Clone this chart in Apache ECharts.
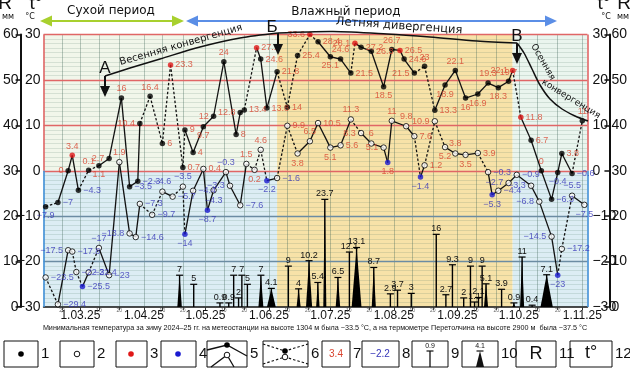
<!DOCTYPE html>
<html><head><meta charset="utf-8">
<script src="https://cdn.jsdelivr.net/npm/echarts@6/dist/echarts.min.js"></script>
<style>html,body{margin:0;padding:0;background:#fff}#c{width:630px;height:370px}</style>
</head><body><div id="c"></div>
<script>
// x = day of year 2025 (1 = 1 January)
const maxDays = [43,49,54,56,59,64,69,74,80,84,88,89,94,100,104,110,111,115,120,125,130,136,138,140,146,148,151,156,161,166,172,176,182,187,192,194,197,202,208,212,216,218,223,228,233,238,243,248,254,259,264,269,271,275,280,285,290,293,295,300,305];
const maxVals = [-7.9,-7,0,3.4,-4.3,0.1,1.1,2.7,16,-3.5,-2.3,10.4,16.4,6,23.3,0.7,9,4,9.7,12,24,8,12.8,13.4,27.1,24.6,13.8,21.8,14,25.4,33.6,28.4,25.1,24.6,21.5,28.1,27.2,26.3,18.5,26.7,26.5,24.6,21.5,23,13.3,18.9,22.1,16.0,16.9,19.3,18.3,19.7,22.1,11.8,6.7,0,-6.3,-0.4,3.8,-0.6,11];
const maxExtreme = [0,0,0,1,0,0,0,0,0,0,0,0,0,0,1,0,0,0,0,0,0,0,0,0,1,0,0,0,0,0,1,0,0,0,0,1,0,0,0,0,1,0,0,0,0,0,0,0,0,0,0,0,1,1,0,0,0,0,0,0,0];
const maxDashed = [1,0,0,0,1,1,0,0,0,0,0,1,1,1,1,1,0,0,0,0,0,0,1,1,0,0,0,1,1,1,1,0,0,0,1,0,0,0,0,0,0,0,1,1,0,0,0,0,0,0,0,0,1,0,0,0,0,0,0,1];

const minDays = [43,49,54,56,58,61,64,69,74,79,84,87,89,95,100,105,110,111,115,120,122,125,131,133,138,141,145,148,151,156,161,166,172,176,182,187,192,197,202,208,210,212,219,223,226,228,233,238,243,248,254,259,261,264,269,273,280,284,290,293,295,300,306];
const minVals = [-23.5,-29.4,-17.5,-17.8,-22.3,-25.5,-22.4,-17,-23,1.9,-13.8,-14.6,-7.3,-9.7,-4.6,-5.7,-3.5,-14,-4.4,0.4,-8.7,-4.3,-0.3,-3.3,-7.6,1.5,0.2,4.6,-2.2,-1.6,9.9,3.8,6.5,10.5,5.1,5.6,11.3,8.3,6,5.1,1.8,11,9.8,7.6,-1.4,1.2,10.9,5.2,3.8,3.5,3.9,-0.3,-5.3,-4.4,-2.7,-0.9,-3.3,-6.8,-14.5,-23,-17.2,-5.5,-7.5];
const minExtreme = [0,0,0,0,0,1,0,0,0,0,0,0,0,0,0,0,0,1,0,0,1,0,0,0,0,0,0,0,1,0,0,0,0,0,0,0,0,0,0,0,1,0,0,0,1,0,0,0,0,0,0,0,1,0,0,0,0,0,0,1,0,0,0];
const minDashed = [1,0,0,1,1,0,1,0,0,0,0,0,1,1,0,1,1,0,0,0,0,0,0,0,0,1,1,1,0,1,1,0,0,0,0,0,1,0,0,0,0,0,0,1,0,1,1,0,0,0,1,0,0,0,0,0,0,0,0,1,1,0];

// precipitation, mm (R axis); duration in days (0 = single reading)
const precipDays = [108.4,115.3,128.1,132.4,134.8,137.2,138.8,141.5,148.1,153.2,161.5,166.5,171.6,175.9,179.3,185.7,191.3,194.8,203.2,211.3,214.8,221.5,233.7,238.4,241.6,247.1,250.4,252.4,254.3,256.1,258,265.6,271.6,275.6,280.5,287.6];
const precipMm = [7,5,0.9,0.9,7,2,7,5,7,4.1,9,4,10.2,5.4,23.7,6.5,12.1,13.1,8.7,2.9,3.7,3,16,2.7,9.3,2,9,1.1,2.1,9,5.1,3.9,0.9,11,0.4,7.1];
const precipSpan = [2.2,0,0,0,0,0,0,0,2.4,4.3,0,2,3,1.7,1.5,2.2,0,4.8,2,0,0,0,0,0,0,0,0,0,0,0,2,0,1.5,2,0,6];

const monthDays = [60,91,121,152,182,213,244,274,305];
const monthLabels = ['1.03.25','1.04.25','1.05.25','1.06.25','1.07.25','1.08.25','1.09.25','1.10.25','1.11.25'];
const decadeDays = [51,69,79,100,110,130,140,161,171,191,201,222,232,253,263,283,293];
const decadeLabels = ['20','10','20','10','20','10','20','10','20','10','20','10','20','10','20','10','20'];

// period boundaries (day of year)
const springStart = 42, summerStart = 156, autumnStart = 271, seasonEnd = 307.5;

const maxLabelPos = ['bottom','right','left','top','right','top','bottom','left','top','right','right','left','top','right','right','right','right','right','bottom','left','top','right','left','right','right','right','right','right','right','right','left','right','bottom','top','right','left','right','right','bottom','top','right','right','left','top','right','bottom','top','bottom','bottom','top','bottom','top','left','right','right','top','right','bottom','right','right','top'];
const minLabelPos = ['right','right','left','right','right','right','right','top','right','top','left','right','right','right','top','right','top','bottom','right','right','bottom','bottom','top','left','right','top','bottom','top','bottom','right','right','bottom','top','right','bottom','right','top','left','top','left','bottom','top','top','right','bottom','right','left','bottom','top','bottom','right','right','bottom','right','left','right','left','left','left','bottom','right','top','bottom'];

const RED = '#d8432e', BLUE = '#3434b8';
const yTop = 30;
const fmt = v => (v < 0 ? '\u2212' : '') + Math.abs(v);
const clampT = v => Math.min(v, yTop);

function segments(days, vals, dashed) {
  const out = [];
  for (let i = 0; i < days.length - 1; i++) out.push([days[i], clampT(vals[i]), days[i+1], clampT(vals[i+1]), dashed[i]]);
  return out;
}
function points(days, vals, ext, pos, filled) {
  return days.map((d, i) => {
    const v = vals[i];
    let item;
    if (filled) item = { color: ext[i] ? '#e01818' : '#000', borderColor: ext[i] ? '#e01818' : '#000', borderWidth: 0 };
    else item = ext[i] ? { color: '#1a1ad0', borderColor: '#1a1ad0', borderWidth: 0 } : { color: '#fff', borderColor: '#000', borderWidth: 1 };
    return { value: [d, clampT(v)], raw: v, itemStyle: item,
      label: { position: pos[i], color: v < 0 ? BLUE : RED } };
  });
}

const chart = echarts.init(document.getElementById('c'), null, { renderer: 'canvas' });
const lookup = {};
monthDays.forEach((d, i) => lookup[d] = '{m|' + monthLabels[i] + '}');
decadeDays.forEach((d, i) => lookup[d] = '{s|' + decadeLabels[i] + '}');
const FF = "'Liberation Sans', Arial, sans-serif";

const option = {
  animation: false,
  grid: { left: 40, right: 37, top: 34.5, bottom: 63 },
  xAxis: [{
    type: 'value', min: springStart, max: seasonEnd, interval: 1, z: 3,
    axisLine: { show: true, onZero: false, lineStyle: { color: '#111', width: 1.5 } },
    axisTick: { show: true, customValues: monthDays.concat(decadeDays), length: 3, lineStyle: { color: '#333' } },
    axisLabel: { show: true, customValues: monthDays.concat(decadeDays), margin: 1, formatter: v => lookup[v] || '',
      rich: { m: { fontSize: 12, fontFamily: FF, color: '#111', lineHeight: 12, padding: [4, 0, 0, 0] },
              s: { fontSize: 5, fontFamily: FF, color: '#666', lineHeight: 6 } } },
    splitLine: { show: true, lineStyle: { color: 'rgba(70,115,95,0.12)', width: 1 } }
  }],
  yAxis: [
    { type: 'value', min: -30, max: 30, interval: 10, position: 'left', z: 3,
      axisLine: { show: false }, axisTick: { show: false },
      axisLabel: { fontSize: 14, fontFamily: FF, color: '#111', margin: 3, formatter: v => fmt(v) },
      splitLine: { show: false },
      minorTick: { show: false, splitNumber: 10 },
      minorSplitLine: { show: true, lineStyle: { color: 'rgba(70,115,95,0.16)', width: 1 } } },
    { type: 'value', min: 0, max: 60, interval: 10, position: 'left', offset: 23,
      axisLine: { show: true, lineStyle: { color: '#111', width: 2 } },
      axisTick: { show: true, length: 5, lineStyle: { color: '#111', width: 1.5 } },
      axisLabel: { fontSize: 14, fontFamily: FF, color: '#111', margin: 2 }, splitLine: { show: false } },
    { type: 'value', min: -30, max: 30, interval: 10, position: 'right',
      axisLine: { show: false }, axisTick: { show: false },
      axisLabel: { fontSize: 14, fontFamily: FF, color: '#111', margin: 5, formatter: v => fmt(v) }, splitLine: { show: false } },
    { type: 'value', min: 0, max: 60, interval: 10, position: 'right', offset: 22,
      axisLine: { show: true, lineStyle: { color: '#111', width: 2 } },
      axisTick: { show: true, inside: true, length: 5, lineStyle: { color: '#111', width: 1.5 } },
      axisLabel: { fontSize: 14, fontFamily: FF, color: '#111', margin: 2 }, splitLine: { show: false } }
  ],
  series: [
    { // backgrounds
      type: 'line', data: [], z: 1, silent: true,
      markArea: { silent: true, data: [
        [{ xAxis: springStart, yAxis: 0, itemStyle: { color: '#f1f6ea' } }, { xAxis: summerStart, yAxis: 30 }],
        [{ xAxis: springStart, yAxis: -30, itemStyle: { color: '#dcedf4' } }, { xAxis: summerStart, yAxis: 0 }],
        [{ xAxis: summerStart, yAxis: -30, itemStyle: { color: '#f7e2a8' } }, { xAxis: autumnStart, yAxis: 30 }],
        [{ xAxis: autumnStart, yAxis: 0, itemStyle: { color: '#eaf5ee' } }, { xAxis: seasonEnd, yAxis: 30 }],
        [{ xAxis: autumnStart, yAxis: -30, itemStyle: { color: '#dcedf4' } }, { xAxis: seasonEnd, yAxis: 0 }]
      ] }
    },
    { // main grid lines and frame
      type: 'line', data: [], z: 4, silent: true,
      markLine: { silent: true, symbol: 'none', label: { show: false }, data: [
        ...decadeDays.concat(monthDays).map(d => ({ xAxis: d, lineStyle: { color: 'rgba(60,95,85,0.25)', width: 1, type: 'solid' } })),
        ...[30, 20, 10, 0].map(t => ({ yAxis: t, lineStyle: { color: '#e06666', width: 1.4, type: 'solid' } })),
        ...[-10, -20].map(t => ({ yAxis: t, lineStyle: { color: '#6b8ca3', width: 1.3, type: 'solid' } })),
        [{ coord: [springStart, 0], lineStyle: { color: '#e06666', width: 1.6, type: 'solid' } }, { coord: [springStart, 30] }],
        [{ coord: [springStart, -30], lineStyle: { color: '#3f8fd6', width: 1.6, type: 'solid' } }, { coord: [springStart, 0] }],
        [{ coord: [seasonEnd, 0], lineStyle: { color: '#e06666', width: 1.6, type: 'solid' } }, { coord: [seasonEnd, 30] }],
        [{ coord: [seasonEnd, -30], lineStyle: { color: '#3f8fd6', width: 1.6, type: 'solid' } }, { coord: [seasonEnd, 0] }]
      ] }
    },
    { // precipitation
      type: 'custom', yAxisIndex: 1, z: 8, silent: true,
      data: precipDays.map((d, i) => [d, precipMm[i], precipSpan[i]]),
      encode: { x: 0, y: 1 },
      renderItem: (params, api) => {
        const x = api.value(0), v = api.value(1), span = api.value(2);
        const top = api.coord([x, v]), base = api.coord([x, 0]);
        const ch = [];
        if (span > 0) {
          const l = api.coord([x - span / 2, 0]), r = api.coord([x + span / 2, 0]);
          ch.push({ type: 'polygon', shape: { points: [[l[0], base[1]], [top[0], top[1]], [r[0], base[1]]] }, style: { fill: '#000' } });
        }
        ch.push({ type: 'line', shape: { x1: top[0], y1: top[1], x2: base[0], y2: base[1] }, style: { stroke: '#000', lineWidth: 1.4 } });
        ch.push({ type: 'line', shape: { x1: top[0] - 3.5, y1: top[1], x2: top[0] + 3.5, y2: top[1] }, style: { stroke: '#000', lineWidth: 1.2 } });
        ch.push({ type: 'text', style: { text: String(v), x: top[0], y: top[1] - 1, align: 'center', verticalAlign: 'bottom', fontSize: 9, fontFamily: FF, fill: '#111' } });
        return { type: 'group', children: ch };
      }
    },
    ...[[maxDays, maxVals, maxDashed], [minDays, minVals, minDashed]].map(([d, v, ds]) => ({
      type: 'custom', z: 9, silent: true,
      data: segments(d, v, ds), encode: { x: [0, 2], y: [1, 3] },
      renderItem: (params, api) => {
        const a = api.coord([api.value(0), api.value(1)]), b = api.coord([api.value(2), api.value(3)]);
        const style = { stroke: '#111', lineWidth: 1.3 };
        if (api.value(4)) style.lineDash = [2.5, 2];
        return { type: 'line', shape: { x1: a[0], y1: a[1], x2: b[0], y2: b[1] }, style };
      }
    })),
    { type: 'scatter', z: 10, symbol: 'circle', symbolSize: 5.5, silent: true,
      data: points(maxDays, maxVals, maxExtreme, maxLabelPos, true),
      label: { show: true, fontSize: 9, fontFamily: FF, distance: 2, formatter: p => fmt(p.data.raw) } },
    { type: 'scatter', z: 10, symbol: 'circle', symbolSize: 5.5, silent: true,
      data: points(minDays, minVals, minExtreme, minLabelPos, false),
      label: { show: true, fontSize: 9, fontFamily: FF, distance: 2, formatter: p => fmt(p.data.raw) } }
  ]
};
chart.setOption(option);

// ---- annotations & legend ----
const G = [];
const DJ = "'DejaVu Sans', sans-serif";
function txt(x, y, text, o) {
  o = o || {};
  G.push({ type: 'text', x, y, rotation: o.rot || 0, z: 30, silent: true,
    style: { text, fontSize: o.fs || 12, fontFamily: o.ff || DJ, fill: o.c || '#111', align: o.al || 'center', verticalAlign: 'middle', fontWeight: o.fw || 'normal' } });
}
function poly(points, o) {
  o = o || {};
  const st = { stroke: o.c || '#111', lineWidth: o.w || 1.5, fill: null };
  if (o.dash) st.lineDash = o.dash;
  G.push({ type: 'polyline', z: 30, silent: true, shape: { points, smooth: o.smooth || 0 }, style: st });
}
function tri(points, c) { G.push({ type: 'polygon', z: 30, silent: true, shape: { points }, style: { fill: c || '#111' } }); }
function rect(x, y, w, h) { G.push({ type: 'rect', z: 29, silent: true, shape: { x, y, width: w, height: h }, style: { fill: '#fff', stroke: '#111', lineWidth: 1 } }); }
function dot(x, y, c, open) { G.push({ type: 'circle', z: 31, silent: true, shape: { cx: x, cy: y, r: 2.8 }, style: open ? { fill: '#fff', stroke: '#111', lineWidth: 1 } : { fill: c } }); }

// axis headers
txt(5, 4, 'R', { fs: 19, ff: 'Liberation Sans' });
txt(8, 17, 'мм', { fs: 8 });
txt(36, 4, 't°', { fs: 19, ff: 'Liberation Sans' });
txt(30, 17, '°C', { fs: 8 });
txt(604, 4, 't°', { fs: 19, ff: 'Liberation Sans' });
txt(606, 17, '°C', { fs: 8 });
txt(624, 4, 'R', { fs: 19, ff: 'Liberation Sans' });
txt(623, 17, 'мм', { fs: 8 });

// period arrows
poly([[46, 21], [178, 21]], { c: '#a8d02e', w: 2 });
tri([[40, 21], [52, 15.5], [52, 26.5]], '#a8d02e');
tri([[184, 21], [172, 15.5], [172, 26.5]], '#a8d02e');
txt(111, 11, 'Сухой период', { fs: 12 });
poly([[192, 21], [551, 21]], { c: '#5b8ee6', w: 2 });
tri([[186, 21], [198, 15.5], [198, 26.5]], '#5b8ee6');
tri([[557, 21], [545, 15.5], [545, 26.5]], '#5b8ee6');
txt(346, 12, 'Влажный период', { fs: 12 });

// convergence / divergence curve
poly([[105, 76], [130, 68], [160, 59], [200, 47], [240, 38], [278, 33]], { w: 1.5, smooth: 0.3 });
poly([[278, 33], [333, 31.5], [387, 34], [430, 37], [477, 41], [517, 43]], { w: 1.5, smooth: 0.3 });
poly([[517, 43], [524, 53], [532, 69], [540, 85], [550, 99], [562, 109], [575, 116], [588, 121]], { w: 1.5, smooth: 0.3 });
txt(181, 45, 'Весенняя конвергенция', { fs: 10, rot: 0.28 });
txt(399, 26, 'Летняя дивергенция', { fs: 11.5, rot: -0.07 });
txt(543, 62, 'Осенняя', { fs: 9, rot: -1.05 });
txt(571, 99, 'конвергенция', { fs: 9, rot: -0.55 });

// stage arrows А Б В
[[105, 68, 76, 97, 'А'], [272, 27, 33, 55, 'Б'], [517, 36, 43, 64, 'В']].forEach(([x, ly, y1, y2, s], i) => {
  const ax = i === 1 ? 278 : x;
  txt(x, ly, s, { fs: 17, ff: 'Liberation Sans' });
  poly([[ax, y1], [ax, y2 - 8]], { w: 2 });
  tri([[ax - 5, y2 - 11], [ax + 5, y2 - 11], [ax, y2]]);
});

// note
txt(315, 328, 'Минимальная температура за зиму 2024–25 гг. на метеостанции на высоте 1304 м была −33.5 °C, а на термометре Перетолчина на высоте 2900 м  была −37.5 °C',
  { fs: 7.2, ff: FF });

// legend
const LY = 341, LH = 26;
const boxes = [[4, 34], [60, 34], [116, 31], [161, 35], [207, 40], [263, 45], [322, 28], [362, 37], [412, 36], [462, 36], [516, 40], [570, 42]];
boxes.forEach(([x, w], i) => {
  rect(x, LY, w, LH);
  txt(x + w + 3, LY + LH / 2, String(i + 1), { fs: 15, ff: 'Liberation Sans', al: 'left' });
});
const cy = LY + LH / 2;
dot(boxes[0][0] + 17, cy, '#000');
dot(boxes[1][0] + 17, cy, '#000', true);
dot(boxes[2][0] + 15, cy, '#e01818');
dot(boxes[3][0] + 17, cy, '#1a1ad0');
{ const x = boxes[4][0];
  poly([[x, LY + 9], [x + 20, LY + 4], [x + 40, LY + 15]], { w: 1.3 });
  poly([[x + 4, LY + LH], [x + 20, LY + 14], [x + 27, LY + LH]], { w: 1.3 });
  dot(x + 20, LY + 4, '#000'); dot(x + 20, LY + 14, '#000', true); }
{ const x = boxes[5][0];
  poly([[x, LY + 3], [x + 22, LY + 10], [x + 45, LY + 3]], { w: 1.1, dash: [2.5, 2] });
  poly([[x, LY + 23], [x + 22, LY + 16], [x + 45, LY + 23]], { w: 1.1, dash: [2.5, 2] });
  dot(x + 22, LY + 10, '#000'); dot(x + 22, LY + 16, '#000', true); }
txt(boxes[6][0] + 14, cy, '3.4', { fs: 10, ff: FF, c: RED });
txt(boxes[7][0] + 18, cy, '\u22122.2', { fs: 10, ff: FF, c: BLUE });
{ const x = boxes[8][0] + 18;
  poly([[x, LY + 10], [x, LY + LH]], { w: 1.3 }); poly([[x - 3.5, LY + 10], [x + 3.5, LY + 10]], { w: 1.2 });
  txt(x, LY + 5, '0.9', { fs: 7, ff: FF }); }
{ const x = boxes[9][0] + 18;
  tri([[x - 4, LY + LH], [x, LY + 10], [x + 4, LY + LH]]);
  poly([[x - 3.5, LY + 10], [x + 3.5, LY + 10]], { w: 1.2 });
  txt(x, LY + 5, '4.1', { fs: 7, ff: FF }); }
txt(boxes[10][0] + 20, cy, 'R', { fs: 18, ff: 'Liberation Sans' });
txt(boxes[11][0] + 21, cy - 1, 't°', { fs: 18, ff: 'Liberation Sans' });

chart.setOption({ graphic: { elements: G } });
</script></body></html>
